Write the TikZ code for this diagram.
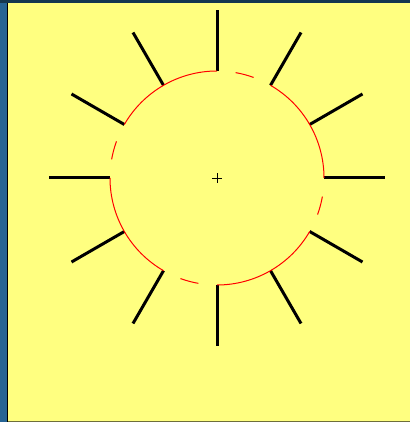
\documentclass[tikz,border=0pt]{standalone}
\usetikzlibrary{calc}
\definecolor{bgyellow}{RGB}{255,255,128}
\definecolor{frameblue}{RGB}{38,100,148}
\definecolor{framedark}{RGB}{20,55,80}
\definecolor{bottomline}{RGB}{110,110,60}
\begin{document}
\begin{tikzpicture}[x=1pt,y=1pt,
  ray/.style={line width=3pt,black},
  rim/.style={red,line width=1pt},
  crossline/.style={black,line width=0.8pt}]
\useasboundingbox (0,0) rectangle (410,422);
\fill[frameblue] (0,0) rectangle (410,422);
\fill[framedark] (0,419) rectangle (410,422);
\fill[bgyellow] (8,1) rectangle (410,419);
\draw[black,line width=1pt] (7.5,0) -- (7.5,419);
\draw[bottomline,line width=1pt] (8,0.5) -- (410,0.5);
\coordinate (c) at (217,244);
% rays
\foreach \a in {0,30,...,330}
  \draw[ray] ($(c)+(\a:107)$) -- ($(c)+(\a:168)$);
% solid rim arcs
\foreach \s in {0,90,180,270}
  \draw[rim] ($(c)+(\s:107)$) arc[start angle=\s,end angle=\s+60,radius=107];
% dashed rim pieces
\foreach \s in {70,160,250,340}
  \draw[rim] ($(c)+(\s:107)$) arc[start angle=\s,end angle=\s+10,radius=107];
% centre cross
\draw[crossline] ($(c)+(-5,0)$) -- ($(c)+(5,0)$);
\draw[crossline] ($(c)+(0,-5)$) -- ($(c)+(0,5)$);
\end{tikzpicture}
\end{document}
